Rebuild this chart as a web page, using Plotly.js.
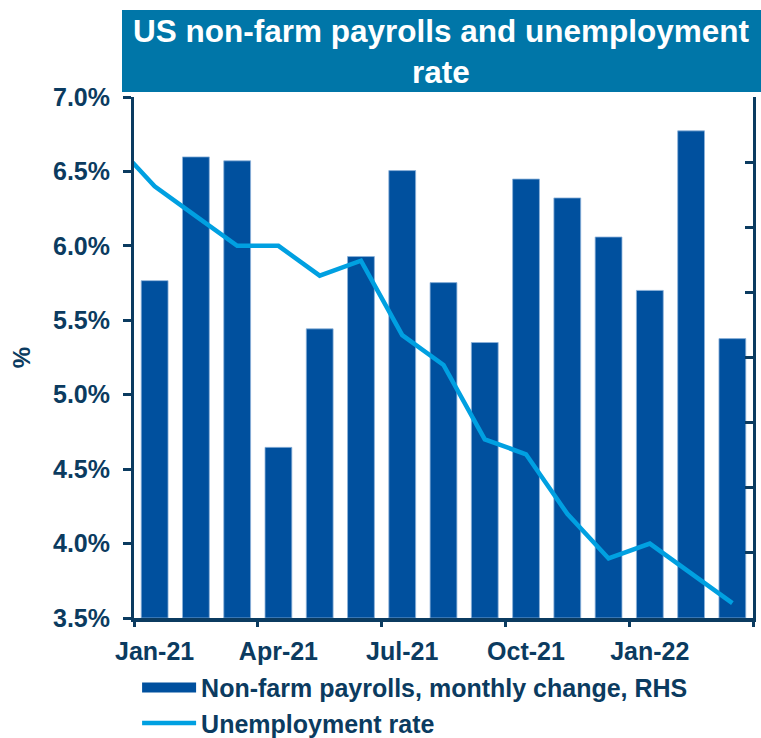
<!DOCTYPE html>
<html>
<head>
<meta charset="utf-8">
<script src="https://cdn.plot.ly/plotly-3.0.1.min.js"></script>
<style>html,body{margin:0;padding:0;background:#fff;}#chart{width:761px;height:738px;}</style>
</head>
<body>
<div id="chart"></div>
<script>
// Months shown as bars
const months = ["Jan-21","Feb-21","Mar-21","Apr-21","May-21","Jun-21","Jul-21","Aug-21","Sep-21","Oct-21","Nov-21","Dec-21","Jan-22","Feb-22","Mar-22"];
// Non-farm payrolls, monthly change (thousands), RHS
const payrolls = [518, 708, 702, 262, 444, 555, 687, 515, 423, 674, 645, 585, 503, 748, 429];
// Unemployment rate months (includes Dec-20, which is clipped at the left edge)
const rateMonths = ["Dec-20","Jan-21","Feb-21","Mar-21","Apr-21","May-21","Jun-21","Jul-21","Aug-21","Sep-21","Oct-21","Nov-21","Dec-21","Jan-22","Feb-22","Mar-22"];
const unemployment = [6.7, 6.4, 6.2, 6.0, 6.0, 5.8, 5.9, 5.4, 5.2, 4.7, 4.6, 4.2, 3.9, 4.0, 3.8, 3.6];
// Tick labels
const tickLabels = ["Jan-21","Apr-21","Jul-21","Oct-21","Jan-22"];

const navy = "#0B3B60";
const barBlue = "#00509E";
const lineBlue = "#00A0E1";
const fontFam = "Liberation Sans, Arial, sans-serif";
const barName = "Non-farm payrolls, monthly change, RHS";

const rateX = rateMonths.map(m => months.indexOf(m) >= 0 ? months.indexOf(m) : -1);
const boundaryTicks = [];
for (let i = 0; i <= months.length; i += 3) boundaryTicks.push(i - 0.5);

const traces = [
  {
    type: "bar", name: barName, showlegend: false, legendgroup: "nfp",
    x: months, y: payrolls, xaxis: "x", yaxis: "y",
    marker: {color: barBlue, line: {color: "#8DB2DA", width: 0.8}},
    hoverinfo: "x+y"
  },
  { // legend swatch for the bars (wide rectangle, as in the original)
    type: "scatter", mode: "lines", name: barName, legendgroup: "nfp",
    x: [null], y: [null], xaxis: "x2", yaxis: "y2",
    line: {color: barBlue, width: 14}, hoverinfo: "skip"
  },
  {
    type: "scatter", mode: "lines", name: "Unemployment rate", legendgroup: "ur",
    x: rateX, y: unemployment, xaxis: "x2", yaxis: "y2",
    line: {color: lineBlue, width: 4.5}
  }
];

const pw = 619, ph = 521;
const tickFont = {size: 25, color: navy, family: fontFam, weight: "bold"};
const layout = {
  width: 761, height: 738,
  margin: {l: 134, r: 8, t: 97, b: 120, autoexpand: false},
  paper_bgcolor: "#fff", plot_bgcolor: "#fff",
  showlegend: true,
  bargap: 0.35,
  font: {family: fontFam, color: navy, size: 20, weight: "bold"},
  title: {
    text: "US non-farm payrolls and unemployment<br>rate",
    font: {family: fontFam, size: 31.5, color: "#fff", weight: "bold"},
    x: 441/761, xanchor: "center", xref: "container",
    y: 1 - 42/738, yanchor: "middle", yref: "container"
  },
  shapes: [{
    type: "rect", xref: "paper", yref: "paper", layer: "below",
    x0: (122-134)/pw, x1: (765-134)/pw, y0: (618-92)/ph, y1: (618-10)/ph,
    fillcolor: "#0076A8", line: {width: 0}
  }],
  xaxis: {
    type: "category", categoryarray: months, categoryorder: "array",
    range: [-0.5, months.length - 0.5],
    tickmode: "array", tickvals: tickLabels, ticktext: tickLabels,
    ticks: "", showline: true, linecolor: navy, linewidth: 4,
    showgrid: false, zeroline: false, ticklabelstandoff: 8,
    tickfont: tickFont
  },
  xaxis2: {
    type: "linear", overlaying: "x", anchor: "y2", side: "bottom",
    range: [-0.5, months.length - 0.5],
    tickmode: "array", tickvals: boundaryTicks, showticklabels: false,
    ticks: "outside", ticklen: 8, tickwidth: 3, tickcolor: navy,
    showline: false, showgrid: false, zeroline: false
  },
  yaxis: {
    side: "right", range: [0, 800], dtick: 100, tick0: 0,
    showticklabels: false, ticks: "inside", ticklen: 8, tickwidth: 3, tickcolor: navy,
    showline: true, linecolor: navy, linewidth: 3,
    showgrid: false, zeroline: false
  },
  yaxis2: {
    overlaying: "y", side: "left", anchor: "x",
    range: [3.5, 7.0], dtick: 0.5, tick0: 3.5, tickformat: ".1f", ticksuffix: "%",
    ticks: "outside", ticklen: 8, tickwidth: 3, tickcolor: navy,
    showline: true, linecolor: navy, linewidth: 3,
    showgrid: false, zeroline: false, ticklabelstandoff: 8,
    tickfont: tickFont,
    title: {text: "%", font: {size: 24, color: navy, family: fontFam, weight: "bold"}, standoff: 16}
  },
  legend: {
    orientation: "v", x: 0.005, xanchor: "left", y: -0.0895, yanchor: "top",
    font: {size: 25, color: navy, family: fontFam, weight: "bold"},
    itemwidth: 54, tracegroupgap: 7, bgcolor: "rgba(0,0,0,0)",
    traceorder: "normal"
  }
};

Plotly.newPlot("chart", traces, layout, {displayModeBar: false, staticPlot: true});
</script>
</body>
</html>
